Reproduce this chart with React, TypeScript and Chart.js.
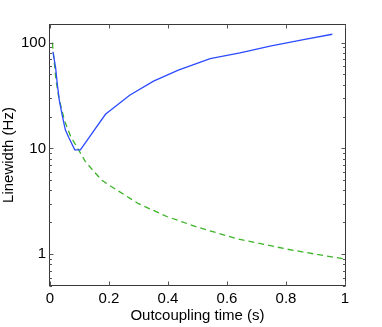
import React, { useEffect, useRef } from "react";
import { Chart, registerables } from "chart.js";

Chart.register(...registerables);

// Blue (solid) series
const blueT = [0.01, 0.019, 0.025, 0.032, 0.043, 0.052, 0.064, 0.084, 0.103, 0.188, 0.27, 0.351, 0.435, 0.543, 0.644, 0.75, 0.855, 0.957];
const blueV = [82, 58, 40, 28, 19.5, 15, 12.6, 9.7, 9.7, 21, 31.8, 43.3, 55, 70.5, 80, 93, 106, 120];

// Green (dashed) series
const greenT = [0.008, 0.02, 0.03, 0.05, 0.07, 0.092, 0.12, 0.15, 0.176, 0.2, 0.3, 0.396, 0.5, 0.633, 0.7, 0.8, 0.9, 1.0];
const greenV = [100, 45, 30, 18, 13, 10.2, 7.5, 6, 5.0, 4.5, 3.0, 2.27, 1.8, 1.4, 1.28, 1.12, 1.0, 0.9];

const xTicks = [0, 0.2, 0.4, 0.6, 0.8, 1];
const yMajor = [1, 10, 100];
const Y_MIN = 0.5;
const Y_MAX = 150;

const FONT = "'Liberation Sans', Arial, Helvetica, sans-serif";

const boxPlugin = {
  id: "matlabBox",
  afterDatasetsDraw(chart: any) {
    const { ctx, chartArea, scales } = chart;
    const l = Math.round(chartArea.left) - 0.5;
    const r = Math.round(chartArea.right) + 0.5;
    const t = Math.round(chartArea.top) + 0.5;
    const b = Math.round(chartArea.bottom) - 0.5;
    ctx.save();
    ctx.strokeStyle = "#383838";
    ctx.lineWidth = 1;
    ctx.strokeRect(l, t, r - l, b - t);
    ctx.strokeStyle = "#555";
    ctx.beginPath();
    const major = 4;
    const minor = 2.5;
    for (const v of xTicks) {
      const px = Math.round(scales.x.getPixelForValue(v)) + 0.5;
      ctx.moveTo(px, b);
      ctx.lineTo(px, b - major);
      ctx.moveTo(px, t);
      ctx.lineTo(px, t + major);
    }
    for (let d = -1; d <= 2; d++) {
      for (let m = 1; m <= 9; m++) {
        const v = m * Math.pow(10, d);
        if (v < Y_MIN || v > Y_MAX) continue;
        const py = Math.round(scales.y.getPixelForValue(v)) + 0.5;
        const len = m === 1 ? major : minor;
        ctx.moveTo(l, py);
        ctx.lineTo(l + len, py);
        ctx.moveTo(r, py);
        ctx.lineTo(r - len, py);
      }
    }
    ctx.stroke();
    ctx.restore();
  },
};

export default function App() {
  const ref = useRef<HTMLCanvasElement | null>(null);

  useEffect(() => {
    document.body.style.margin = "0";
    const canvas = ref.current;
    if (!canvas) return;
    const chart = new Chart(canvas, {
      type: "line",
      data: {
        datasets: [
          {
            label: "Linewidth",
            data: blueT.map((t, i) => ({ x: t, y: blueV[i] })),
            borderColor: "rgb(45,75,255)",
            borderWidth: 1.3,
            pointRadius: 0,
            tension: 0,
            fill: false,
          },
          {
            label: "Limit",
            data: greenT.map((t, i) => ({ x: t, y: greenV[i] })),
            borderColor: "rgb(60,180,40)",
            borderWidth: 1.3,
            borderDash: [6, 4],
            pointRadius: 0,
            tension: 0,
            fill: false,
          },
        ],
      },
      options: {
        responsive: false,
        animation: false,
        layout: { padding: { top: 24, right: 37, left: 0, bottom: 0 } },
        plugins: { legend: { display: false }, tooltip: { enabled: false } },
        scales: {
          x: {
            type: "linear",
            min: 0,
            max: 1,
            afterFit: (s: any) => {
              s.height = 41;
            },
            afterBuildTicks: (s: any) => {
              s.ticks = xTicks.map((v) => ({ value: v }));
            },
            grid: { display: false, drawTicks: false },
            border: { display: false },
            ticks: {
              padding: 4,
              color: "#000",
              font: { family: FONT, size: 15 },
              maxRotation: 0,
              callback: (v: any) => String(Number(Number(v).toFixed(1))),
            },
            title: {
              display: true,
              text: "Outcoupling time (s)",
              color: "#000",
              font: { family: FONT, size: 15 },
              padding: { top: 0, bottom: 2 },
            },
          },
          y: {
            type: "logarithmic",
            min: Y_MIN,
            max: Y_MAX,
            afterFit: (s: any) => {
              s.width = 50;
            },
            afterBuildTicks: (s: any) => {
              s.ticks = yMajor.map((v) => ({ value: v }));
            },
            grid: { display: false, drawTicks: false },
            border: { display: false },
            ticks: {
              padding: 4,
              color: "#000",
              font: { family: FONT, size: 15 },
              callback: (v: any) => String(v),
            },
            title: {
              display: true,
              text: "Linewidth (Hz)",
              color: "#000",
              font: { family: FONT, size: 15 },
              padding: { top: 0, bottom: 0 },
            },
          },
        },
      },
      plugins: [boxPlugin],
    });
    return () => chart.destroy();
  }, []);

  return (
    <div style={{ position: "absolute", left: 0, top: 0, width: 382, height: 327, background: "#fff" }}>
      <canvas ref={ref} width={382} height={327} />
    </div>
  );
}
